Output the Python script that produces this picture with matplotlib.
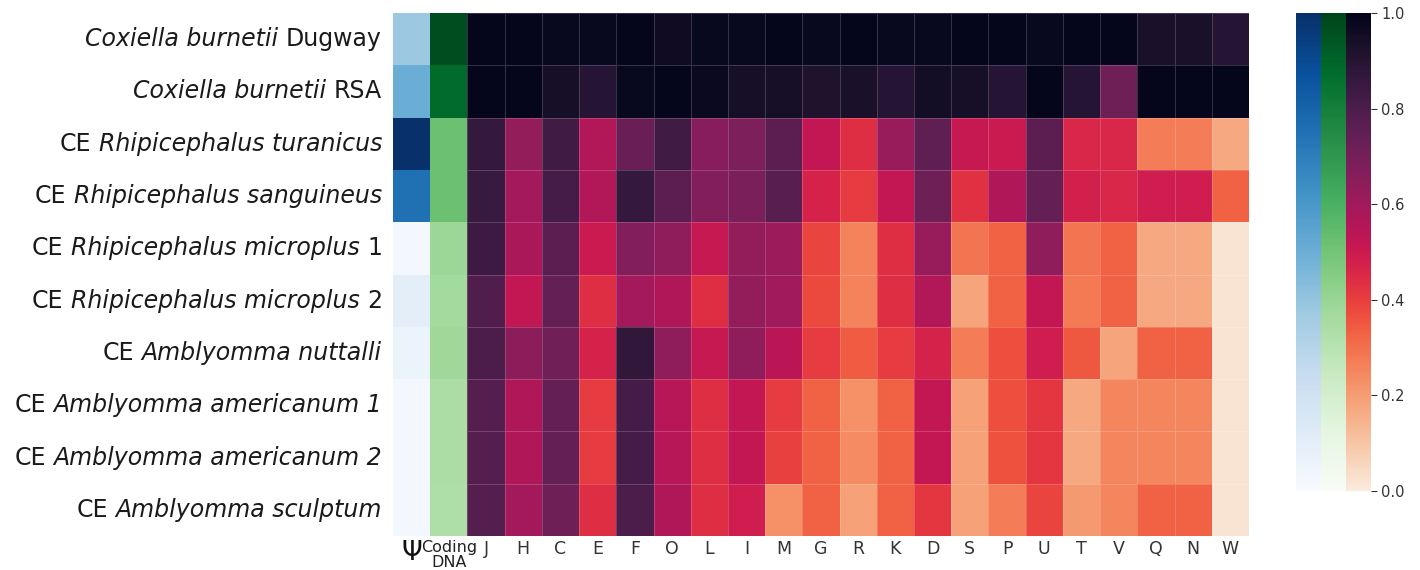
import numpy as np
import matplotlib
matplotlib.use("Agg")
import matplotlib.pyplot as plt
import seaborn as sns
from matplotlib.colors import Normalize
from matplotlib.cm import ScalarMappable
from matplotlib.offsetbox import TextArea, HPacker, AnnotationBbox

plt.rcParams["font.family"] = ["DejaVu Sans"]

# Genomes (rows, top to bottom): (text, italic?) pieces separated by spaces
genomes = [
    [("Coxiella burnetii", True), ("Dugway", False)],
    [("Coxiella burnetii", True), ("RSA", False)],
    [("CE", False), ("Rhipicephalus turanicus", True)],
    [("CE", False), ("Rhipicephalus sanguineus", True)],
    [("CE", False), ("Rhipicephalus microplus", True), ("1", False)],
    [("CE", False), ("Rhipicephalus microplus", True), ("2", False)],
    [("CE", False), ("Amblyomma nuttalli", True)],
    [("CE", False), ("Amblyomma americanum 1", True)],
    [("CE", False), ("Amblyomma americanum 2", True)],
    [("CE", False), ("Amblyomma sculptum", True)],
]

# Pseudogene fraction (Ψ column)
pseudo = [0.38, 0.50, 1.00, 0.75, 0.02, 0.10, 0.06, 0.02, 0.02, 0.02]

# Coding DNA fraction
coding = [0.97, 0.88, 0.52, 0.52, 0.39, 0.37, 0.38, 0.34, 0.34, 0.33]

# COG functional categories
cog_labels = ["J", "H", "C", "E", "F", "O", "L", "I", "M", "G", "R",
              "K", "D", "S", "P", "U", "T", "V", "Q", "N", "W"]

# Relative retention per COG category, one list per genome
cog_dugway      = [0.99, 0.99, 0.98, 0.98, 0.99, 0.96, 0.98, 0.98, 0.99, 0.98, 0.99,
                   0.98, 0.98, 0.99, 0.99, 0.98, 0.99, 0.99, 0.93, 0.93, 0.90]
cog_rsa         = [0.99, 0.99, 0.94, 0.90, 0.98, 0.99, 0.97, 0.94, 0.94, 0.92, 0.93,
                   0.90, 0.95, 0.94, 0.90, 0.99, 0.90, 0.72, 0.99, 0.99, 0.99]
cog_turanicus   = [0.86, 0.63, 0.83, 0.56, 0.73, 0.83, 0.66, 0.68, 0.76, 0.52, 0.44,
                   0.62, 0.75, 0.51, 0.50, 0.76, 0.46, 0.46, 0.27, 0.27, 0.17]
cog_sanguineus  = [0.85, 0.59, 0.82, 0.56, 0.86, 0.76, 0.67, 0.69, 0.77, 0.47, 0.41,
                   0.52, 0.72, 0.43, 0.57, 0.74, 0.48, 0.46, 0.49, 0.49, 0.33]
cog_microplus1  = [0.84, 0.58, 0.76, 0.50, 0.67, 0.64, 0.51, 0.63, 0.61, 0.39, 0.26,
                   0.44, 0.62, 0.29, 0.33, 0.64, 0.29, 0.33, 0.17, 0.17, 0.02]
cog_microplus2  = [0.79, 0.52, 0.74, 0.44, 0.59, 0.57, 0.44, 0.63, 0.60, 0.38, 0.26,
                   0.44, 0.56, 0.18, 0.33, 0.52, 0.28, 0.33, 0.17, 0.17, 0.02]
cog_nuttalli    = [0.80, 0.65, 0.71, 0.47, 0.87, 0.64, 0.51, 0.64, 0.54, 0.41, 0.34,
                   0.41, 0.47, 0.27, 0.37, 0.49, 0.35, 0.18, 0.33, 0.33, 0.02]
cog_americanum1 = [0.78, 0.57, 0.74, 0.41, 0.82, 0.55, 0.44, 0.52, 0.41, 0.33, 0.23,
                   0.33, 0.52, 0.19, 0.37, 0.42, 0.17, 0.25, 0.25, 0.25, 0.02]
cog_americanum2 = [0.78, 0.57, 0.74, 0.41, 0.82, 0.55, 0.44, 0.52, 0.40, 0.33, 0.24,
                   0.33, 0.52, 0.19, 0.36, 0.42, 0.17, 0.25, 0.25, 0.25, 0.02]
cog_sculptum    = [0.78, 0.59, 0.72, 0.44, 0.80, 0.57, 0.44, 0.49, 0.23, 0.33, 0.19,
                   0.33, 0.42, 0.19, 0.27, 0.39, 0.21, 0.25, 0.33, 0.33, 0.02]

cog = np.array([cog_dugway, cog_rsa, cog_turanicus, cog_sanguineus, cog_microplus1,
                cog_microplus2, cog_nuttalli, cog_americanum1, cog_americanum2,
                cog_sculptum])

n_rows = len(genomes)
n_cog = len(cog_labels)
n_cols = 2 + n_cog

fig = plt.figure(figsize=(14.2, 5.7), dpi=100)
fig.patch.set_facecolor("white")

ax = fig.add_axes([393 / 1420, 1 - 536 / 570, (1249 - 393) / 1420, (536 - 13) / 570])

norm = Normalize(0, 1)
rocket_r = sns.color_palette("rocket_r", as_cmap=True)
blues = plt.get_cmap("Blues")
greens = plt.get_cmap("Greens")

edge = (1, 1, 1, 0.18)
xe = np.arange(n_cols + 1)
ye = np.arange(n_rows + 1)

# Ψ column
ax.pcolormesh(xe[0:2], ye, np.array(pseudo)[:, None], cmap=blues, norm=norm,
              edgecolors="none")
# Coding DNA column
ax.pcolormesh(xe[1:3], ye, np.array(coding)[:, None], cmap=greens, norm=norm,
              edgecolors="none")
# COG categories
ax.pcolormesh(xe[2:], ye, cog, cmap=rocket_r, norm=norm,
              edgecolors=edge, linewidth=0.6)

ax.set_xlim(0, n_cols)
ax.set_ylim(n_rows, 0)
for s in ax.spines.values():
    s.set_visible(False)

# Row labels with mixed upright / italic pieces
ax.set_yticks([])
fs_row = 17
space_pt = 0.318 * fs_row
for i, parts in enumerate(genomes):
    children = [TextArea(t, textprops=dict(fontsize=fs_row, color="#1a1a1a",
                                           fontstyle="italic" if it else "normal"))
                for t, it in parts]
    pack = HPacker(children=children, align="baseline", pad=0, sep=space_pt)
    ab = AnnotationBbox(pack, (0, i + 0.5), xycoords=("axes fraction", "data"),
                        xybox=(-8, 0), boxcoords="offset points",
                        box_alignment=(1, 0.5), frameon=False, pad=0)
    ax.add_artist(ab)

xlabels = ["Ψ", "Coding\nDNA"] + cog_labels
ax.set_xticks(np.arange(n_cols) + 0.5)
ax.set_xticklabels(xlabels, color="#333333", fontsize=12.5, va="top")
ax.tick_params(axis="x", length=0, pad=3)
tl = ax.get_xticklabels()
tl[0].set_fontsize(19)
tl[0].set_color("#111111")
tl[1].set_fontsize(11.5)
tl[1].set_linespacing(1.0)
tl[1].set_color("#222222")

# Colorbars: Blues, Greens, rocket_r side by side
cb_bottom = 1 - 491 / 570
cb_h = (491 - 13) / 570
for i, cmap in enumerate([blues, greens, rocket_r]):
    x0 = [1296, 1321, 1346][i]
    cax = fig.add_axes([x0 / 1420, cb_bottom, 25 / 1420, cb_h])
    cb = fig.colorbar(ScalarMappable(norm=norm, cmap=cmap), cax=cax)
    cb.outline.set_visible(False)
    if i < 2:
        cax.set_yticks([])
    else:
        cb.set_ticks([0.0, 0.2, 0.4, 0.6, 0.8, 1.0])
        cax.tick_params(labelsize=10.5, colors="#333333", length=4, width=0.8)

fig.savefig("out.png", dpi=100, facecolor="white")
